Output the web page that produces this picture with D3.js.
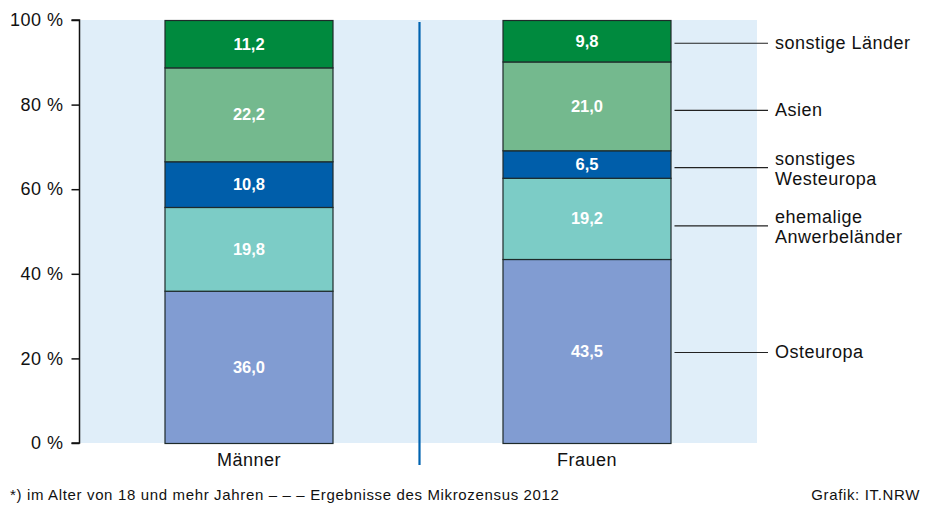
<!DOCTYPE html>
<html>
<head>
<meta charset="utf-8">
<script src="https://cdn.jsdelivr.net/npm/d3@7"></script>
<style>
  html, body { margin: 0; padding: 0; background: #fff; }
  svg { display: block; font-family: "Liberation Sans", Arial, sans-serif; }
</style>
</head>
<body>
<svg id="chart" width="928" height="510"></svg>
<script>
// ---- data ----
const groups = ["Männer", "Frauen"];
const seriesNames = ["Osteuropa", "ehemalige Anwerbeländer", "sonstiges Westeuropa", "Asien", "sonstige Länder"];
const seriesLabelLines = [["Osteuropa"], ["ehemalige", "Anwerbeländer"], ["sonstiges", "Westeuropa"], ["Asien"], ["sonstige Länder"]];
const maennerValues = [36.0, 19.8, 10.8, 22.2, 11.2];
const frauenValues = [43.5, 19.2, 6.5, 21.0, 9.8];
const seriesColors = ["#819CD2", "#7CCCC6", "#005EAA", "#74B98E", "#008A3E"];
const yTicks = [0, 20, 40, 60, 80, 100];
const footnote = "*) im Alter von 18 und mehr Jahren \u2013 \u2013 \u2013 Ergebnisse des Mikrozensus 2012";
const credit = "Grafik: IT.NRW";

// ---- layout ----
const plot = { left: 80, right: 757, top: 20, bottom: 443 };
const leaderNudge = [1, 7, 3, 4, 2];
const svg = d3.select("#chart");

const x0 = d3.scalePoint().domain(groups).range([249, 587]);
const barW = 169;
const y = d3.scaleLinear().domain([0, 100]).range([plot.bottom, plot.top]);

const valuesByGroup = { "Männer": maennerValues, "Frauen": frauenValues };
const rows = groups.map(g => {
  const o = { group: g };
  seriesNames.forEach((s, i) => o[s] = valuesByGroup[g][i]);
  return o;
});
const stack = d3.stack().keys(seriesNames)(rows);

// background
svg.append("rect")
  .attr("x", plot.left).attr("y", plot.top)
  .attr("width", plot.right - plot.left).attr("height", plot.bottom - plot.top)
  .attr("fill", "#E0EEF9");

// divider
svg.append("line")
  .attr("x1", 419.5).attr("x2", 419.5)
  .attr("y1", plot.top + 2).attr("y2", 465)
  .attr("stroke", "#0063B0").attr("stroke-width", 2.2);

// bars
const layers = svg.append("g").selectAll("g").data(stack).join("g")
  .attr("fill", (d, i) => seriesColors[i]);
layers.selectAll("rect").data(d => d).join("rect")
  .attr("x", d => x0(d.data.group) - barW / 2 + 0.5)
  .attr("y", d => y(d[1]) + 0.5)
  .attr("width", barW - 1)
  .attr("height", d => y(d[0]) - y(d[1]))
  .attr("stroke", "#1e2a2a").attr("stroke-width", 1.2);

// value labels
const fmt = v => d3.format(".1f")(v).replace(".", ",");
layers.selectAll("text").data(d => d).join("text")
  .attr("x", d => x0(d.data.group))
  .attr("y", d => y((d[0] + d[1]) / 2))
  .attr("dy", "0.36em")
  .attr("text-anchor", "middle")
  .attr("fill", "#fff")
  .attr("font-weight", "bold")
  .attr("font-size", 16.5)
  .text(d => fmt(d[1] - d[0]));

// y axis
const yAxis = d3.axisLeft(y).tickValues(yTicks).tickSize(8).tickPadding(8)
  .tickFormat(d => d + " %");
const ga = svg.append("g").attr("transform", `translate(${plot.left - 0.5},0)`).call(yAxis);
ga.select(".domain").attr("stroke", "#111").attr("stroke-width", 1.5)
  .attr("d", `M-8,${plot.top}H0V${plot.bottom}H-8`);
ga.selectAll(".tick line").attr("stroke", "#111").attr("stroke-width", 1.5);
ga.selectAll(".tick text").attr("font-size", 18).attr("fill", "#111")
  .attr("font-family", "Liberation Sans, Arial, sans-serif").attr("letter-spacing", 0.5);

// x labels
svg.append("g").selectAll("text").data(groups).join("text")
  .attr("x", d => x0(d)).attr("y", 466)
  .attr("text-anchor", "middle").attr("font-size", 18).attr("letter-spacing", 0.5)
  .attr("fill", "#111").text(d => d);

// legend leaders using Frauen stack midpoints
const last = groups[groups.length - 1];
const legend = svg.append("g").selectAll("g").data(stack).join("g")
  .attr("transform", (s, i) => {
    const seg = s.find(d => d.data.group === last);
    return `translate(0,${y((seg[0] + seg[1]) / 2) + leaderNudge[i]})`;
  });
legend.append("line")
  .attr("x1", x0(last) + barW / 2 + 3).attr("x2", 768)
  .attr("y1", 0.5).attr("y2", 0.5)
  .attr("stroke", "#222").attr("stroke-width", 1.2);
legend.each(function (s, i) {
  const lines = seriesLabelLines[i];
  const g = d3.select(this);
  lines.forEach((t, k) => {
    const off = lines.length === 1 ? 0 : (k === 0 ? -8.5 : 11.5);
    g.append("text").attr("x", 775).attr("y", off).attr("dy", "0.36em")
      .attr("font-size", 18).attr("letter-spacing", 0.5).attr("fill", "#111").text(t);
  });
});

// footer
svg.append("text").attr("x", 10).attr("y", 500).attr("font-size", 15)
  .attr("letter-spacing", 0.65).attr("fill", "#111").text(footnote);
svg.append("text").attr("x", 920).attr("y", 500).attr("text-anchor", "end")
  .attr("font-size", 15).attr("letter-spacing", 0.65).attr("fill", "#111").text(credit);
</script>
</body>
</html>
